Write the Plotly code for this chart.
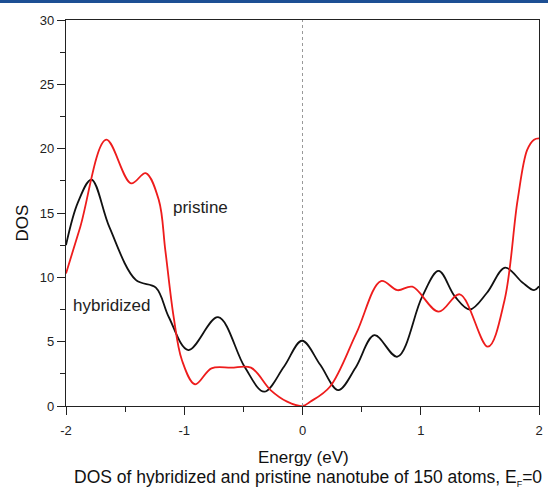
import plotly.graph_objects as go

# Hybridized (black) DOS curve
hyb_x = [-2.0, -1.9, -1.785, -1.633, -1.41, -1.24, -1.13, -0.965, -0.714, -0.49, -0.324, -0.157, -0.004,
         0.15, 0.302, 0.45, 0.608, 0.803, 1.012, 1.151, 1.29, 1.415, 1.56, 1.713, 1.86, 1.958, 2.0]
hyb_y = [12.5, 15.8, 17.6, 13.9, 9.8, 9.2, 6.9, 4.35, 6.9, 3.05, 1.11, 3.05, 5.07,
         3.2, 1.24, 3.0, 5.5, 3.83, 8.5, 10.5, 8.5, 7.5, 8.8, 10.75, 9.6, 9.0, 9.3]

# Pristine (red) DOS curve
pri_x = [-2.0, -1.88, -1.66, -1.45, -1.326, -1.215, -1.16, -1.09, -1.02, -0.909, -0.77, -0.603, -0.436,
         -0.27, -0.13, 0.0, 0.065, 0.232, 0.455, 0.664, 0.803, 0.929, 1.151, 1.33, 1.568, 1.708, 1.819, 1.90, 1.958, 2.0]
pri_y = [10.3, 13.9, 20.7, 17.3, 18.1, 16.0, 12.1, 6.94, 3.57, 1.69, 2.93, 2.98, 2.98,
         1.24, 0.34, 0.0, 0.33, 1.5, 5.65, 9.71, 9.0, 9.27, 7.33, 8.68, 4.61, 8.2, 16.0, 19.9, 20.7, 20.8]

x_ticks = [-2, -1, 0, 1, 2]
y_ticks = [0, 5, 10, 15, 20, 25, 30]

fig = go.Figure()
fig.add_trace(go.Scatter(x=hyb_x, y=hyb_y, mode="lines", line=dict(color="#111111", width=1.8, shape="spline", smoothing=1.0),
                         name="hybridized", showlegend=False))
fig.add_trace(go.Scatter(x=pri_x, y=pri_y, mode="lines", line=dict(color="#ee1c1c", width=1.8, shape="spline", smoothing=1.0),
                         name="pristine", showlegend=False))

fig.add_shape(type="line", x0=0, x1=0, y0=0, y1=30, xref="x", yref="y",
              line=dict(color="#999999", width=1, dash="dot"))
# top blue bar
fig.add_shape(type="rect", xref="paper", yref="paper", x0=-0.2, x1=1.2, y0=1.0 + 17/386, y1=1.0 + 21/386,
              fillcolor="#1d4f94", line=dict(width=0))

fig.add_annotation(x=-0.86, y=15.4, text="pristine", showarrow=False, font=dict(size=17, color="#222222"))
fig.add_annotation(x=-1.61, y=7.8, text="hybridized", showarrow=False, font=dict(size=17, color="#222222"))
fig.add_annotation(xref="paper", yref="paper", x=0.503, y=-0.1347, yanchor="middle", showarrow=False,
                   text="Energy (eV)", font=dict(size=17, color="#111111"))
fig.add_annotation(xref="paper", yref="paper", x=-0.092, y=0.474, xanchor="center", yanchor="middle", showarrow=False,
                   textangle=-90, text="DOS", font=dict(size=17, color="#111111"))
fig.add_annotation(xref="paper", yref="paper", x=0.512, y=-0.187, yanchor="middle", showarrow=False,
                   text="DOS of hybridized and pristine nanotube of 150 atoms, E<sub><span style='font-size:9px'>F</span></sub>=0",
                   font=dict(size=17.5, color="#111111"))

fig.update_layout(
    width=548, height=489,
    margin=dict(l=66, r=5, t=20, b=83),
    paper_bgcolor="white", plot_bgcolor="white",
    font=dict(family="Liberation Sans, Arial, sans-serif", color="#222222"),
    xaxis=dict(range=[-2, 2], tickvals=x_ticks, ticktext=[str(v) for v in x_ticks],
               showline=True, linecolor="#222222", linewidth=1.2, mirror=True,
               ticks="outside", ticklen=8, tickcolor="#222222", showgrid=False, zeroline=False,
               minor=dict(dtick=0.5, ticks="outside", ticklen=5, tickcolor="#222222"),
               ticklabelstandoff=4,
               tickfont=dict(size=13)),
    yaxis=dict(range=[0, 30], tickvals=y_ticks, ticktext=[str(v) for v in y_ticks],
               showline=True, linecolor="#222222", linewidth=1.2, mirror=True,
               ticks="outside", ticklen=8, tickcolor="#222222", showgrid=False, zeroline=False,
               minor=dict(dtick=2.5, ticks="outside", ticklen=5, tickcolor="#222222"),
               tickfont=dict(size=13)),
)

fig.write_html("out.html")
